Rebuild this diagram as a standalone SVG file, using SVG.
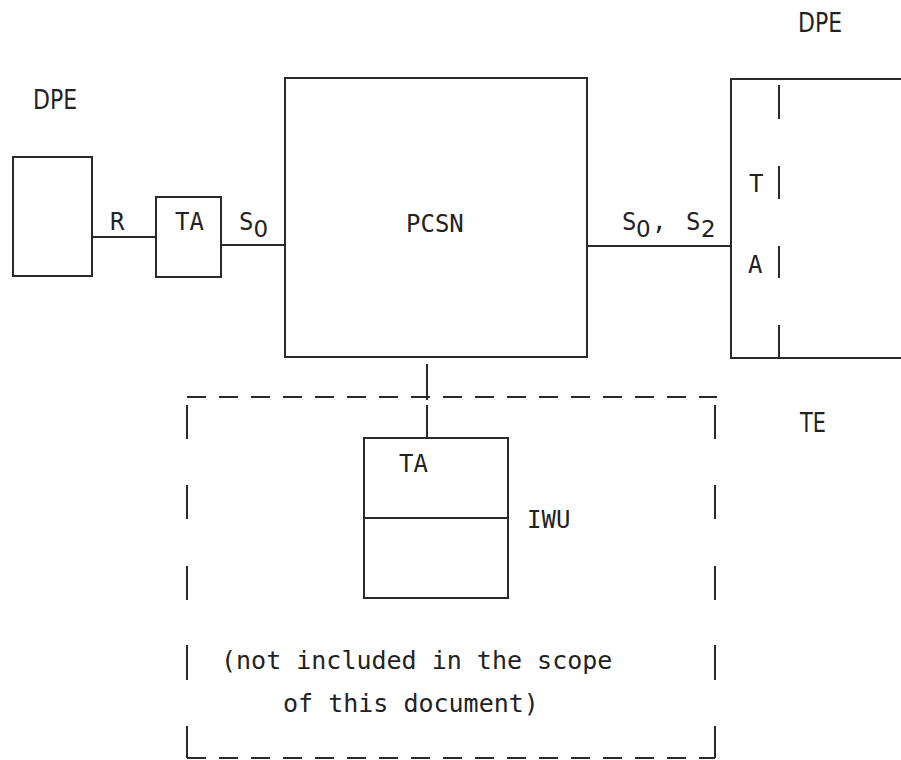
<svg xmlns="http://www.w3.org/2000/svg" width="901" height="760" viewBox="0 0 901 760">
<style>
.s{fill:none;stroke:#2a2a2a;stroke-width:2}
.d{fill:none;stroke:#2a2a2a;stroke-width:2;stroke-dasharray:19 13}
.t{font-family:"DejaVu Sans Mono","Liberation Mono",monospace;font-size:24px;fill:#222}
.b{font-family:"DejaVu Sans","Liberation Sans",sans-serif;font-size:27px;fill:#222}
.n{font-family:"DejaVu Sans Mono","Liberation Mono",monospace;font-size:25px;fill:#222}
.sub{font-family:"DejaVu Sans","Liberation Sans",sans-serif;font-size:23px}
</style>
<rect width="901" height="760" fill="#fff"/>
<g id="dpe-left">
<rect class="s" x="13" y="157" width="79" height="119"/>
<text class="b" x="33" y="109" textLength="44" lengthAdjust="spacingAndGlyphs">DPE</text>
</g>
<g id="ta-left">
<rect class="s" x="156" y="197" width="65" height="80"/>
<text class="t" x="175" y="230">TA</text>
</g>
<g id="pcsn">
<rect class="s" x="285" y="78" width="302" height="279"/>
<text class="t" x="406" y="232">PCSN</text>
</g>
<g id="dpe-right">
<path class="s" d="M901,79 H731 V358 H901"/>
<path class="s" d="M779,85 V119 M779,166 V199 M779,246 V278 M779,325 V358"/>
<text class="t" x="749" y="192">T</text>
<text class="t" x="748" y="273">A</text>
<text class="b" x="798" y="32" textLength="44" lengthAdjust="spacingAndGlyphs">DPE</text>
</g>
<g id="te-region">
<path class="d" d="M187,397 H717"/>
<path class="d" d="M187,758 H715"/>
<path class="s" d="M187,405 V439 M187,485 V519 M187,566 V600 M187,645 V680 M187,726 V758"/>
<path class="s" d="M715,405 V439 M715,485 V519 M715,566 V600 M715,645 V680 M715,726 V758"/>
<text class="b" x="800" y="432" textLength="26" lengthAdjust="spacingAndGlyphs">TE</text>
<text class="n" x="221" y="669">(not included in the scope</text>
<text class="n" x="283" y="712">of this document)</text>
</g>
<g id="iwu">
<rect class="s" x="364" y="438" width="144" height="160"/>
<path class="s" d="M364,518 H508"/>
<text class="t" x="399" y="472">TA</text>
<text class="t" x="527" y="528">IWU</text>
</g>
<g id="connectors">
<path class="s" d="M92,237 H156"/>
<text class="t" x="110" y="230">R</text>
<path class="s" d="M221,245 H285"/>
<text class="t" x="239" y="230">S<tspan class="sub" dy="7">0</tspan></text>
<path class="s" d="M587,246 H731"/>
<text class="t" y="230"><tspan x="622">S</tspan><tspan class="sub" x="636" dy="7">0</tspan><tspan x="652" dy="-7">,</tspan><tspan x="686">S</tspan><tspan class="sub" x="701" dy="7">2</tspan></text>
<path class="s" d="M427,364 V400 M427,405 V438"/>
</g>
</svg>
